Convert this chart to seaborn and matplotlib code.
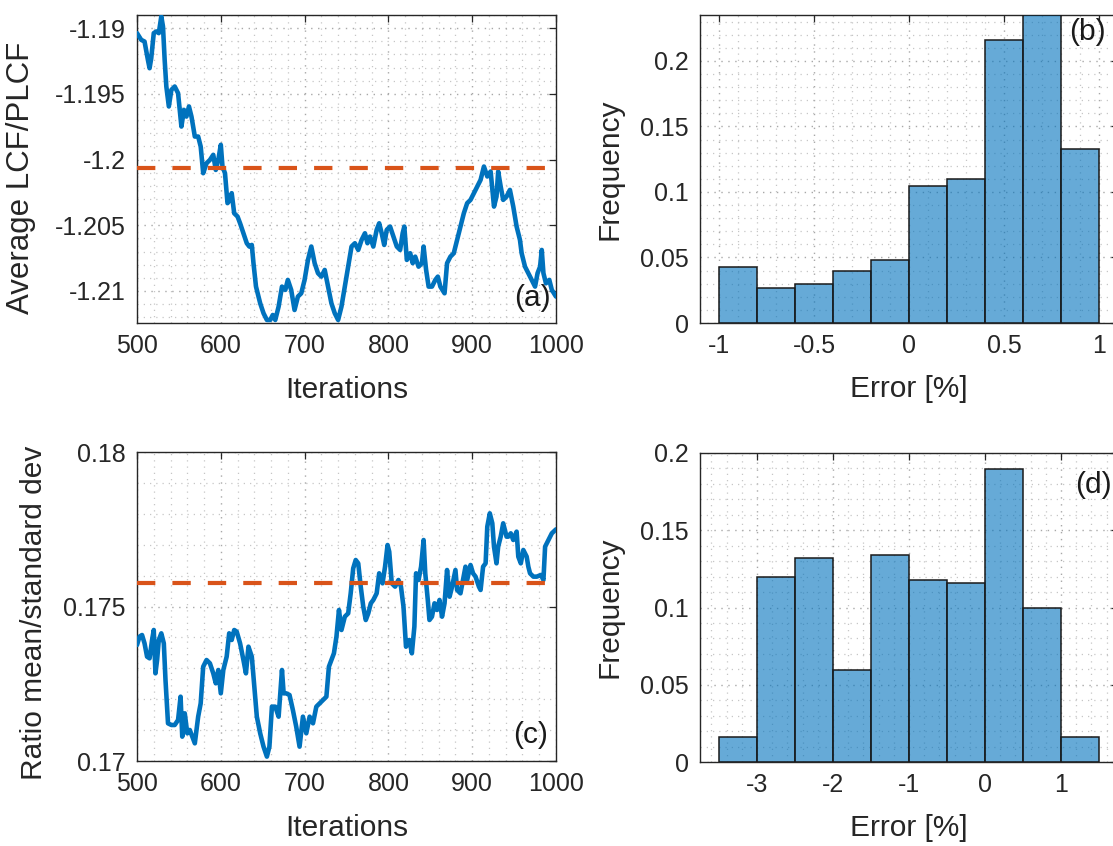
import numpy as np
import pandas as pd
import seaborn as sns
import matplotlib
matplotlib.use("Agg")
import matplotlib.pyplot as plt
from matplotlib.ticker import AutoMinorLocator, MultipleLocator, FuncFormatter

# ---------------------------------------------------------------- data
iterations_a = [
    500, 505, 509, 513, 515, 517, 520, 523, 526, 529, 531, 533, 535, 538, 541, 545, 549, 553, 556, 559,
    562, 565, 569, 573, 576, 579, 583, 587, 591, 594, 597, 600, 602, 605, 608, 611, 613, 616, 620, 623,
    627, 631, 634, 637, 639, 642, 647, 651, 655, 659, 662, 665, 669, 673, 677, 680, 684, 688, 692, 696,
    700, 704, 708, 712, 716, 720, 724, 728, 732, 736, 740, 744, 748, 752, 756, 760, 764, 768, 772, 775,
    778, 782, 786, 789, 792, 795, 798, 802, 806, 810, 814, 817, 819, 822, 826, 829, 832, 836, 840, 842,
    845, 848, 852, 856, 859, 862, 867, 870, 874, 878, 882, 886, 890, 894, 898, 902, 906, 910, 914, 918,
    922, 926, 929, 931, 934, 937, 941, 945, 949, 953, 957, 959, 963, 967, 971, 975, 978, 981, 983, 985,
    988, 992, 995, 1000,
]
avg_lcf_plcf = [
    -1.19038, -1.19089, -1.19102, -1.19241, -1.19305, -1.19228, -1.19038, -1.19025, -1.19038, -1.18911,
    -1.18987, -1.19241, -1.19444, -1.19596, -1.19470, -1.19444, -1.19495, -1.19749, -1.19622, -1.19673,
    -1.19596, -1.19673, -1.19825, -1.19825, -1.19901, -1.20104, -1.20028, -1.20003, -1.19964, -1.20079,
    -1.20003, -1.19888, -1.20053, -1.20104, -1.20332, -1.20307, -1.20256, -1.20409, -1.20434, -1.20485,
    -1.20561, -1.20637, -1.20662, -1.20650, -1.20789, -1.20967, -1.21094, -1.21170, -1.21221, -1.21221,
    -1.21183, -1.21221, -1.21119, -1.20967, -1.20992, -1.20916, -1.20992, -1.21145, -1.21043, -1.21018,
    -1.20916, -1.20764, -1.20662, -1.20789, -1.20865, -1.20891, -1.20840, -1.20967, -1.21094, -1.21170,
    -1.21221, -1.21119, -1.20967, -1.20815, -1.20662, -1.20637, -1.20688, -1.20612, -1.20561, -1.20637,
    -1.20586, -1.20662, -1.20535, -1.20485, -1.20561, -1.20650, -1.20535, -1.20510, -1.20586, -1.20662,
    -1.20688, -1.20561, -1.20510, -1.20764, -1.20713, -1.20789, -1.20739, -1.20815, -1.20789, -1.20662,
    -1.20840, -1.20967, -1.20967, -1.20916, -1.20891, -1.20967, -1.21018, -1.20789, -1.20739, -1.20713,
    -1.20612, -1.20510, -1.20409, -1.20332, -1.20307, -1.20256, -1.20206, -1.20155, -1.20053, -1.20129,
    -1.20091, -1.20358, -1.20282, -1.20091, -1.20206, -1.20307, -1.20282, -1.20231, -1.20358, -1.20510,
    -1.20612, -1.20713, -1.20815, -1.20865, -1.20916, -1.20967, -1.20865, -1.20815, -1.20688, -1.20865,
    -1.20942, -1.20916, -1.20992, -1.21043,
]
ref_lcf_plcf = -1.20066
ylim_a = (-1.21244, -1.18900)

iterations_c = [
    500, 503, 506, 509, 512, 515, 518, 520, 522, 524, 526, 529, 532, 534, 537, 541, 545, 549, 552, 554,
    557, 560, 563, 566, 569, 573, 576, 579, 583, 587, 591, 594, 597, 600, 603, 607, 610, 613, 616, 619,
    623, 627, 630, 633, 637, 639, 643, 647, 651, 655, 658, 661, 665, 669, 673, 675, 678, 682, 686, 690,
    694, 698, 702, 706, 710, 714, 718, 722, 726, 729, 732, 735, 738, 741, 744, 748, 752, 755, 758, 761,
    764, 767, 770, 773, 776, 779, 782, 786, 789, 793, 796, 799, 801, 804, 808, 812, 815, 818, 821, 825,
    828, 831, 833, 836, 839, 842, 844, 847, 849, 852, 855, 858, 861, 864, 867, 870, 873, 876, 880, 882,
    886, 889, 892, 894, 898, 901, 904, 908, 910, 913, 916, 918, 921, 924, 926, 929, 931, 934, 937, 941,
    943, 946, 949, 953, 955, 958, 961, 965, 967, 969, 973, 977, 982, 985, 987, 991, 995, 1000,
]
ratio_mean_std = [
    0.173754, 0.174024, 0.174078, 0.173808, 0.173377, 0.173323, 0.173916, 0.174240, 0.172837, 0.173269,
    0.173916, 0.174132, 0.173808, 0.172622, 0.171219, 0.171165, 0.171165, 0.171327, 0.172082, 0.170788,
    0.171543, 0.170896, 0.171004, 0.170788, 0.170572, 0.171435, 0.171867, 0.173053, 0.173269, 0.173161,
    0.172837, 0.172514, 0.172945, 0.172190, 0.172945, 0.173377, 0.174132, 0.173916, 0.174240, 0.174186,
    0.173808, 0.173269, 0.172837, 0.173700, 0.173377, 0.172730, 0.171435, 0.170896, 0.170464, 0.170141,
    0.170464, 0.171759, 0.171759, 0.171435, 0.172945, 0.172190, 0.172190, 0.172136, 0.171651, 0.171111,
    0.170464, 0.171435, 0.170896, 0.171435, 0.171219, 0.171759, 0.171867, 0.171975, 0.172082, 0.173053,
    0.173269, 0.173485, 0.174024, 0.174887, 0.174240, 0.174671, 0.174779, 0.175426, 0.176235, 0.176505,
    0.176397, 0.175642, 0.174995, 0.174563, 0.174779, 0.175103, 0.175211, 0.175426, 0.176074, 0.175750,
    0.176289, 0.176990, 0.176775, 0.175750, 0.175642, 0.175858, 0.175642, 0.174995, 0.173700, 0.173916,
    0.173485, 0.174348, 0.176074, 0.175858, 0.176289, 0.177152, 0.176074, 0.175211, 0.174563, 0.174671,
    0.175103, 0.174887, 0.175211, 0.174671, 0.175103, 0.176181, 0.175318, 0.175642, 0.176181, 0.175534,
    0.175426, 0.175858, 0.176289, 0.175858, 0.176343, 0.176074, 0.175966, 0.175642, 0.175534, 0.176289,
    0.176397, 0.177584, 0.178015, 0.177692, 0.176937, 0.176397, 0.176937, 0.177260, 0.177692, 0.177260,
    0.177260, 0.177368, 0.177152, 0.177422, 0.176613, 0.176397, 0.176829, 0.176613, 0.176289, 0.176074,
    0.175966, 0.175966, 0.176020, 0.175858, 0.176937, 0.177152, 0.177368, 0.177497,
]
ref_ratio = 0.17575
ylim_c = (0.17, 0.18)

error_edges_b = [-1.0, -0.8, -0.6, -0.4, -0.2, 0.0, 0.2, 0.4, 0.6, 0.8, 1.0]
frequency_b = [0.0427, 0.0267, 0.0300, 0.0399, 0.0480, 0.1044, 0.1100, 0.2157, 0.2350, 0.1324]
xticks_b = [-1, -0.5, 0, 0.5, 1]

error_edges_d = [-3.5, -3.0, -2.5, -2.0, -1.5, -1.0, -0.5, 0.0, 0.5, 1.0, 1.5]
frequency_d = [0.0160, 0.1200, 0.1320, 0.0596, 0.1339, 0.1179, 0.1161, 0.1896, 0.0999, 0.0160]
xticks_d = [-3, -2, -1, 0, 1]
ylim_d = (0, 0.2)

# ---------------------------------------------------------------- style
sns.set_style("white")
plt.rcParams["font.family"] = ["Liberation Sans", "DejaVu Sans"]

LINE_BLUE = (0.0, 0.447, 0.741)
REF_ORANGE = (0.851, 0.325, 0.098)
BAR_FACE = (0.0, 0.447, 0.741, 0.6)
INK = "#262626"
TICK_FS = 18
LABEL_FS = 21.5
DOTS = (0, (1, 4))

W, H = 1113, 846
fig = plt.figure(figsize=(W / 100, H / 100), dpi=100)


def axes_px(left, top, right, bottom):
    return fig.add_axes([left / W, 1 - bottom / H, (right - left) / W, (bottom - top) / H])


def g_fmt(v, _pos):
    return "%g" % round(v, 6)


def style_axes(ax):
    ax.set_axisbelow(True)
    ax.xaxis.set_minor_locator(AutoMinorLocator(5))
    ax.yaxis.set_minor_locator(AutoMinorLocator(5))
    ax.grid(which="major", linestyle=DOTS, color="#a8a8a8", linewidth=1.0)
    ax.grid(which="minor", linestyle=DOTS, color="#c6c6c6", linewidth=0.9)
    ax.tick_params(which="both", direction="in", top=True, right=True, colors=INK,
                   labelsize=TICK_FS, labelcolor=INK)
    ax.tick_params(which="major", length=5, width=0.9, pad=8)
    ax.tick_params(which="minor", length=0)
    for s in ax.spines.values():
        s.set_color(INK)
        s.set_linewidth(1.0)
        s.set_visible(True)
    ax.yaxis.set_major_formatter(FuncFormatter(g_fmt))
    ax.xaxis.set_major_formatter(FuncFormatter(g_fmt))


def trace_panel(ax, it, val, ref, ylim, ylabel, tag, tag_xy, ylabel_fs):
    df = pd.DataFrame({"Iterations": it, "value": val})
    sns.lineplot(data=df, x="Iterations", y="value", ax=ax, color=LINE_BLUE,
                 linewidth=3.3, estimator=None, sort=False, zorder=3)
    ref_df = pd.DataFrame({"Iterations": [it[0], it[-1]], "value": [ref, ref]})
    sns.lineplot(data=ref_df, x="Iterations", y="value", ax=ax, color=REF_ORANGE,
                 linewidth=3.0, estimator=None, zorder=4)
    ax.lines[-1].set_dashes((4.4, 4.1))
    ax.set_xlim(it[0], it[-1])
    ax.set_ylim(*ylim)
    ax.xaxis.set_major_locator(MultipleLocator(100))
    ax.yaxis.set_major_locator(MultipleLocator(0.005))
    style_axes(ax)
    ax.set_xlabel("Iterations", fontsize=LABEL_FS, color=INK)
    ax.set_ylabel(ylabel, fontsize=ylabel_fs, color=INK)
    ax.text(tag_xy[0], tag_xy[1], tag, transform=ax.transAxes, ha="right", va="center",
            fontsize=LABEL_FS, color="#1a1a1a", zorder=6)


def hist_panel(ax, edges, freq, xticks, ylim, tag, tag_xy):
    lo, hi = edges[:-1], edges[1:]
    df = pd.DataFrame({"error": [(a + b) / 2 for a, b in zip(lo, hi)], "freq": freq})
    sns.histplot(data=df, x="error", weights="freq", bins=list(edges), ax=ax, stat="count",
                 color=LINE_BLUE, edgecolor="#1a1a1a", linewidth=1.1, zorder=3)
    for p in ax.patches:
        p.set_alpha(None)
        p.set_facecolor(BAR_FACE)
        p.set_edgecolor("#1a1a1a")
    span = edges[-1] - edges[0]
    ax.set_xlim(edges[0] - 0.05 * span, edges[-1] + 0.05 * span)
    ax.set_ylim(*ylim)
    ax.set_xticks(xticks)
    ax.yaxis.set_major_locator(MultipleLocator(0.05))
    style_axes(ax)
    ax.set_xlabel("Error [%]", fontsize=LABEL_FS, color=INK)
    ax.set_ylabel("Frequency", fontsize=LABEL_FS, color=INK)
    ax.text(tag_xy[0], tag_xy[1], tag, transform=ax.transAxes, ha="right", va="center",
            fontsize=LABEL_FS, color="#1a1a1a", zorder=6)


ax_a = axes_px(137, 15, 556, 323)
trace_panel(ax_a, iterations_a, avg_lcf_plcf, ref_lcf_plcf, ylim_a, "Average LCF/PLCF", "(a)",
            (0.988, 0.08), 22.5)
ax_a.yaxis.set_label_coords(-0.24, 0.47)
ax_a.xaxis.set_label_coords(0.5, -0.172)

ax_c = axes_px(137, 452, 556, 761)
trace_panel(ax_c, iterations_c, ratio_mean_std, ref_ratio, ylim_c, "Ratio mean/standard dev", "(c)",
            (0.981, 0.084), LABEL_FS)
ax_c.yaxis.set_label_coords(-0.212, 0.48)
ax_c.xaxis.set_label_coords(0.5, -0.172)

ax_b = axes_px(700, 15, 1118, 323)
hist_panel(ax_b, error_edges_b, frequency_b, xticks_b, (0, max(frequency_b)), "(b)", (0.97, 0.945))
ax_b.yaxis.set_label_coords(-0.183, 0.5)
ax_b.xaxis.set_label_coords(0.5, -0.168)

ax_d = axes_px(700, 453, 1118, 762)
hist_panel(ax_d, error_edges_d, frequency_d, xticks_d, ylim_d, "(d)", (0.985, 0.896))
ax_d.yaxis.set_label_coords(-0.183, 0.5)
ax_d.xaxis.set_label_coords(0.5, -0.168)

fig.savefig("out.png", dpi=100)
